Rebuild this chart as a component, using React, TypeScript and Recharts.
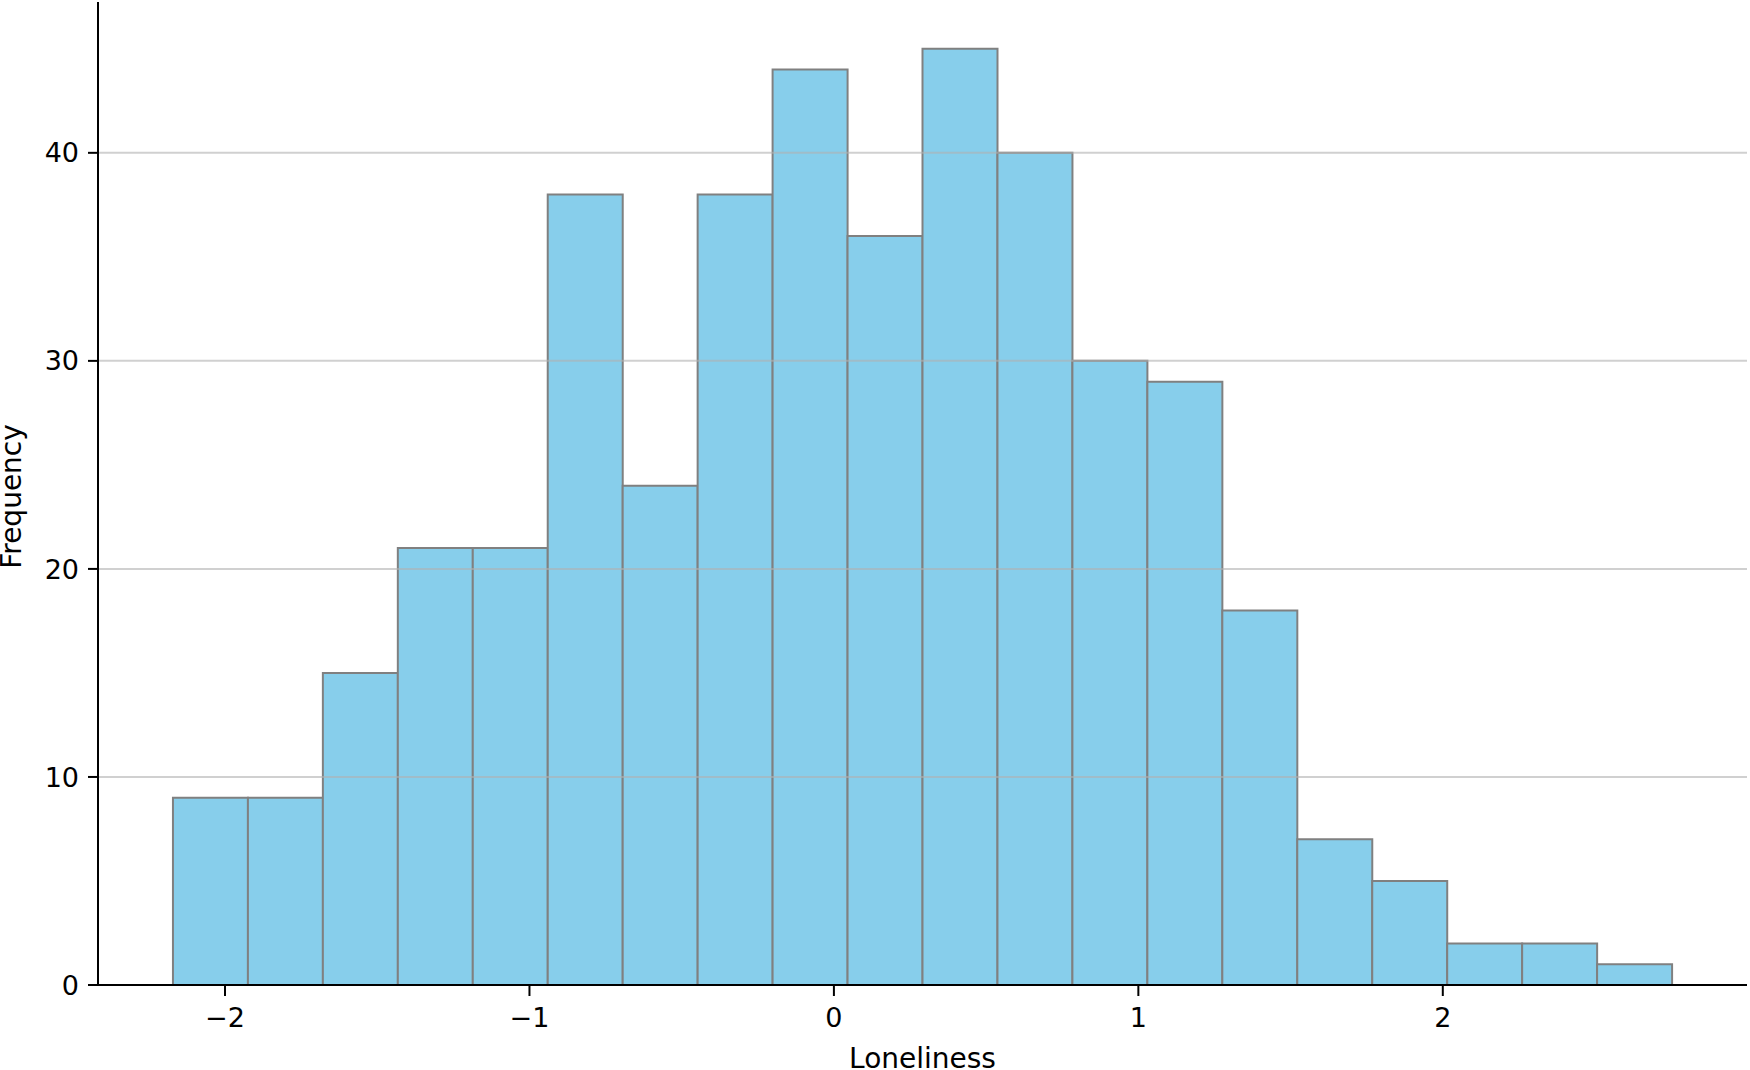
import React from 'react';
import { ComposedChart, Bar, XAxis, YAxis, ReferenceLine, Label } from 'recharts';

// histogram of loneliness scores, 20 equal bins
const binStart = -2.171;
const binWidth = 0.2462;
const counts = [9, 9, 15, 21, 21, 38, 24, 38, 44, 36, 45, 40, 30, 29, 18, 7, 5, 2, 2, 1];

const xTicks = [-2, -1, 0, 1, 2];
const yTicks = [0, 10, 20, 30, 40];

// one empty bin each side = matplotlib's 5% x margin
const data = [null, ...counts, null].map((count, i) => ({
  bin: i,
  center: binStart + binWidth * (i - 0.5),
  count,
}));

const xDomain = [binStart - binWidth, binStart + binWidth * (counts.length + 1)];

const FONT = '"DejaVu Sans", sans-serif';
const tickStyle = { fontFamily: FONT, fontSize: 27, fill: '#000' };
const fmt = (v: number) => String(v).replace('-', '\u2212');

const App: React.FC = () => {
  return (
    <div style={{ position: 'absolute', left: 0, top: 0, width: 1750, height: 1070, background: '#fff' }}>
      <ComposedChart
        width={1750}
        height={1070}
        data={data}
        margin={{ top: 2, right: 3, left: 0, bottom: 0 }}
        barCategoryGap={0}
        barGap={0}
      >
        <XAxis xAxisId="bins" dataKey="bin" type="category" hide />
        <XAxis
          dataKey="center"
          type="number"
          domain={xDomain}
          allowDataOverflow
          ticks={xTicks}
          tickFormatter={fmt}
          height={85}
          tick={tickStyle}
          tickSize={11}
          tickMargin={12}
          axisLine={{ stroke: '#000', strokeWidth: 2 }}
          tickLine={{ stroke: '#000', strokeWidth: 2 }}
        >
          <Label
            value="Loneliness"
            position="insideBottom"
            offset={2}
            style={{ fontFamily: FONT, fontSize: 28, fill: '#000' }}
          />
        </XAxis>
        <YAxis
          type="number"
          domain={[0, 47.25]}
          allowDataOverflow
          ticks={yTicks}
          width={98}
          tick={tickStyle}
          tickSize={10}
          tickMargin={9}
          axisLine={{ stroke: '#000', strokeWidth: 2 }}
          tickLine={{ stroke: '#000', strokeWidth: 2 }}
        >
          <Label
            value="Frequency"
            position="center"
            angle={-90}
            dx={-38}
            dy={3}
            style={{ fontFamily: FONT, fontSize: 28, fill: '#000' }}
          />
        </YAxis>
        <Bar
          xAxisId="bins"
          dataKey="count"
          fill="#87CEEB"
          stroke="#808080"
          strokeWidth={2}
          isAnimationActive={false}
        />
        {yTicks.slice(1).map(t => (
          <ReferenceLine key={t} y={t} stroke="#b0b0b0" strokeOpacity={0.6} strokeWidth={2} />
        ))}
      </ComposedChart>
    </div>
  );
};

export default App;
